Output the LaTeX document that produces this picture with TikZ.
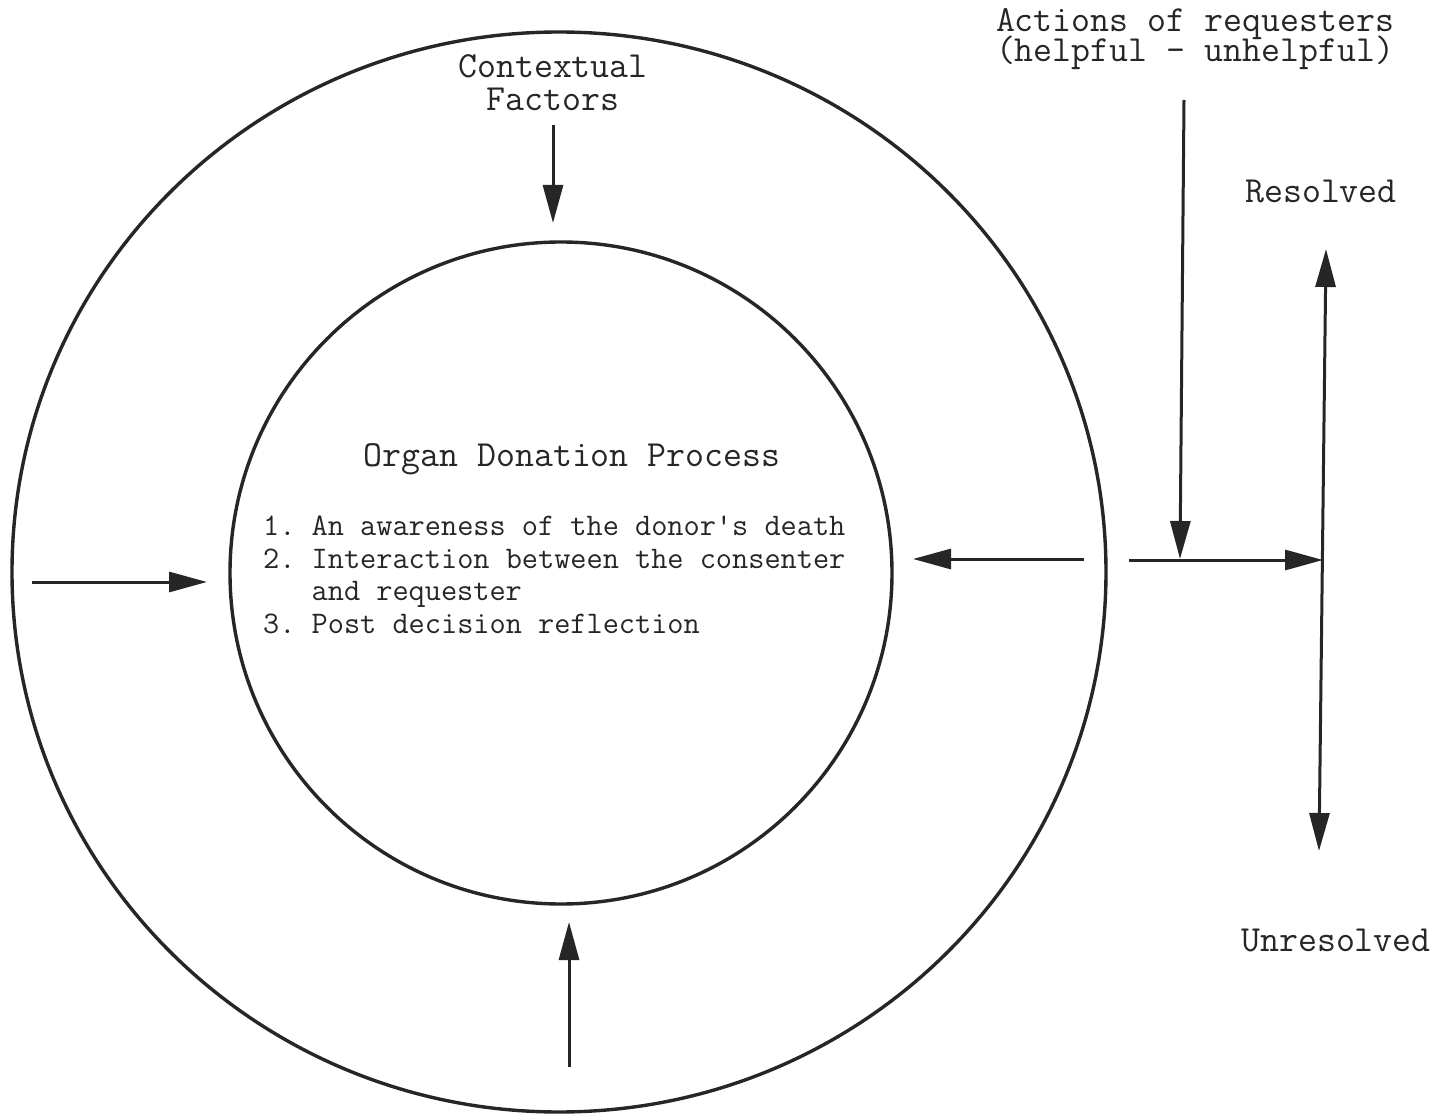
\documentclass[tikz,border=0pt]{standalone}
\usetikzlibrary{arrows.meta,shapes.geometric}
\definecolor{ink}{gray}{0.15}
\newcommand\tightlines{\lineskiplimit=-60pt\relax\lineskip=0pt\relax}
\tikzset{
  ring/.style={draw=ink,line width=3.4pt,fill=none,inner sep=0pt},
  flow/.style={draw=ink,line width=3pt,-{Triangle[length=38pt,width=20pt]}},
  biflow/.style={draw=ink,line width=3pt,{Triangle[length=38pt,width=20pt]}-{Triangle[length=38pt,width=20pt]}},
  big/.style={font=\ttfamily\frenchspacing\fontsize{36.8}{31}\selectfont\tightlines,text=ink,inner sep=0pt,anchor=base},
  small/.style={font=\ttfamily\frenchspacing\fontsize{31.4}{31}\selectfont,text=ink,inner sep=0pt,anchor=base west},
}
\begin{document}
\begin{tikzpicture}[x=1pt,y=-1pt]
\useasboundingbox[fill=white] (0,0) rectangle (1444,1115);
% rings
\node[ring,ellipse,minimum width=1094pt,minimum height=1080pt] (outer) at (559,572) {};
\node[ring,circle,minimum size=662pt] (inner) at (561,573) {};
% texts (base anchor = baseline of last line)
\node[big,align=center] (ctx) at (553,111) {Contextual\\[2pt]Factors};
\node[big] (title) at (572,466) {Organ Donation Process};
\node[small] (item1) at (263,535) {1. An awareness of the donor\textquotesingle s death};
\node[small] (item2) at (263,568) {2. Interaction between the consenter};
\node[small] (item2b) at (263,600) {\phantom{2.\ }and requester};
\node[small] (item3) at (263,633) {3. Post decision reflection};
\node[big,align=center] (act) at (1195,62) {Actions of requesters\\[-1pt](helpful – unhelpful)};
\node[big] (resolved) at (1321,203) {Resolved};
\node[big] (unresolved) at (1336,951) {Unresolved};
% arrow end points
\coordinate (ts) at (553,125);  \coordinate (te) at (553,223);
\coordinate (ls) at (32,582);   \coordinate (le) at (207,582);
\coordinate (rs) at (1084,559); \coordinate (re) at (913,559);
\coordinate (bs) at (569,1067); \coordinate (be) at (569,922);
\coordinate (as) at (1184,100); \coordinate (ae) at (1180,559);
\coordinate (hs) at (1129,560); \coordinate (he) at (1323,560);
\coordinate (up) at (1326,249); \coordinate (down) at (1319,851);
% arrows
\draw[flow] (ts) -- (te);
\draw[flow] (ls) -- (le);
\draw[flow] (rs) -- (re);
\draw[flow] (bs) -- (be);
\draw[flow] (as) -- (ae);
\draw[flow] (hs) -- (he);
\draw[biflow] (down) -- (up);
\end{tikzpicture}
\end{document}
